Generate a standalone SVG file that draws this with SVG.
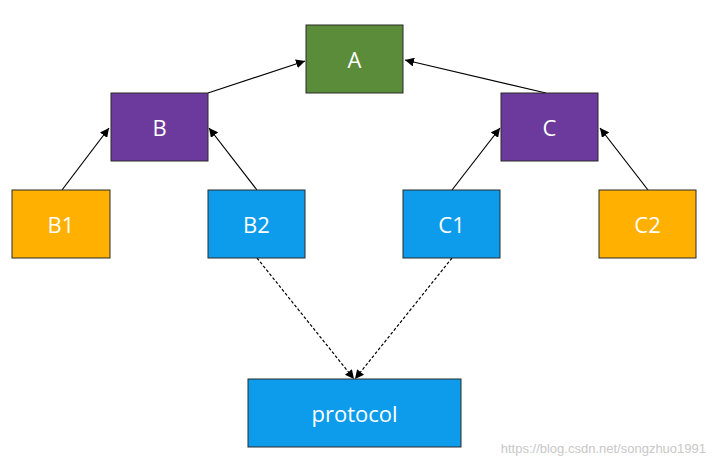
<svg xmlns="http://www.w3.org/2000/svg" width="712" height="468" viewBox="0 0 712 468">
<style>
.n{stroke:#2a2a2a;stroke-width:1}
.t{font-family:"Open Sans","Liberation Sans",sans-serif;font-size:22px;fill:#fff;text-anchor:middle;dominant-baseline:central}
.e{stroke:#000;stroke-width:1.2;fill:none}
.d{stroke:#000;stroke-width:1.2;fill:none;stroke-dasharray:3,2}
</style>
<defs><marker id="ar" viewBox="0 0 10 10" refX="10" refY="5" markerWidth="9" markerHeight="9" orient="auto-start-reverse" markerUnits="userSpaceOnUse"><path d="M0,0L10,5L0,10z" fill="#000"/></marker></defs>
<rect width="712" height="468" fill="#fff"/>
<g id="connectors">
<line class="e" x1="208" y1="93" x2="305" y2="61" marker-end="url(#ar)"/>
<line class="e" x1="546" y1="93" x2="405" y2="60" marker-end="url(#ar)"/>
<line class="e" x1="62" y1="190" x2="109" y2="128" marker-end="url(#ar)"/>
<line class="e" x1="257" y1="190" x2="209" y2="128" marker-end="url(#ar)"/>
<line class="e" x1="452" y1="190" x2="500" y2="128" marker-end="url(#ar)"/>
<line class="e" x1="648" y1="190" x2="600" y2="128" marker-end="url(#ar)"/>
<line class="d" x1="257" y1="258" x2="354" y2="379" marker-end="url(#ar)"/>
<line class="d" x1="452" y1="258" x2="355" y2="379" marker-end="url(#ar)"/>
</g>
<g id="A"><rect class="n" x="306" y="25" width="97" height="68" fill="#5b8c3a"/><text class="t" x="354.500" y="59">A</text></g>
<g id="B"><rect class="n" x="111" y="93" width="97" height="68" fill="#6b3a9c"/><text class="t" x="159.500" y="127">B</text></g>
<g id="C"><rect class="n" x="501" y="93" width="97" height="68" fill="#6b3a9c"/><text class="t" x="549.500" y="127">C</text></g>
<g id="B1"><rect class="n" x="12" y="190" width="98" height="68" fill="#ffb000"/><text class="t" x="61" y="224">B1</text></g>
<g id="B2"><rect class="n" x="208" y="190" width="97" height="68" fill="#0d9ceb"/><text class="t" x="256.500" y="224">B2</text></g>
<g id="C1"><rect class="n" x="403" y="190" width="97" height="68" fill="#0d9ceb"/><text class="t" x="451.500" y="224">C1</text></g>
<g id="C2"><rect class="n" x="599" y="190" width="97" height="68" fill="#ffb000"/><text class="t" x="647.500" y="224">C2</text></g>
<g id="protocol"><rect class="n" x="248" y="379" width="213" height="68" fill="#0d9ceb"/><text class="t" x="354.500" y="413">protocol</text></g>
<text x="706" y="453" font-family="Liberation Sans,sans-serif" font-size="13" fill="#c8c8c8" text-anchor="end">https://blog.csdn.net/songzhuo1991</text>
</svg>
